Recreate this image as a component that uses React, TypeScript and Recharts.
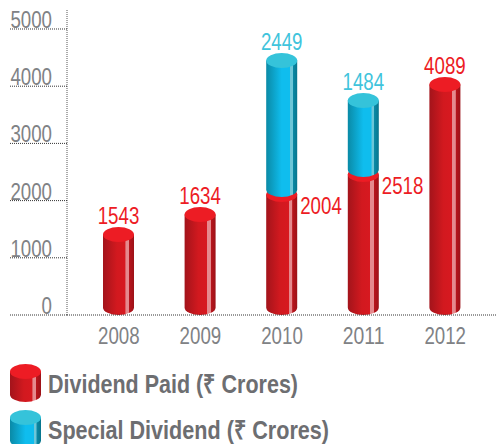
import React from 'react';
import { BarChart, Bar, XAxis, YAxis, Legend, LabelList } from 'recharts';

const years = ['2008', '2009', '2010', '2011', '2012'];
// bar heights as drawn in the picture, read against the axis (the artwork is not to scale)
const paidHeights = [1538, 1888, 2238, 2587, 4161];
const specialHeights = [null, null, 2342, 1294, null];
// printed labels
const paidLabels = [1543, 1634, 2004, 2518, 4089];
const specialLabels = [null, null, 2449, 1484, null];
const yTicks = [0, 1000, 2000, 3000, 4000, 5000];

const FONT = '"Liberation Sans", sans-serif';
const GREY = '#808285';
const RED = '#ed1c24';
const BLUE = '#3fc4dc';
const RY = 7.5;

const data = years.map((year, i) => ({
    year,
    paid: paidHeights[i],
    special: specialHeights[i],
    paidLabel: paidLabels[i],
    specialLabel: specialLabels[i],
}));

const Gradients = () => (
    <defs>
        <linearGradient id="redBody" x1="0" y1="0" x2="1" y2="0">
            <stop offset="0" stopColor="#a3141b" />
            <stop offset="0.45" stopColor="#d2191f" />
            <stop offset="0.72" stopColor="#d71920" />
            <stop offset="0.73" stopColor="#e58a8e" />
            <stop offset="0.84" stopColor="#e58a8e" />
            <stop offset="0.85" stopColor="#b8151c" />
            <stop offset="1" stopColor="#9c1218" />
        </linearGradient>
        <linearGradient id="blueBody" x1="0" y1="0" x2="1" y2="0">
            <stop offset="0" stopColor="#0a8aa6" />
            <stop offset="0.5" stopColor="#0fbdee" />
            <stop offset="0.76" stopColor="#0fbdee" />
            <stop offset="0.77" stopColor="#6cc6d8" />
            <stop offset="0.85" stopColor="#6cc6d8" />
            <stop offset="0.86" stopColor="#0a8aa6" />
            <stop offset="1" stopColor="#08758d" />
        </linearGradient>
    </defs>
);

// no condensed face is installed, so digits get squeezed to the width they have in the picture
const NarrowText = ({ value, ...rest }: any) => (
    <text
        fontFamily={FONT}
        fontSize={23}
        textLength={String(value).length * 10.4}
        lengthAdjust="spacingAndGlyphs"
        {...rest}
    >
        {value}
    </text>
);

const Cylinder = ({ x, y, width, height, body, top }: any) => {
    const rx = width / 2;
    return (
        <g>
            <path
                d={`M${x},${y + RY} L${x},${y + height - RY} A${rx},${RY} 0 0 0 ${x + width},${y + height - RY} L${x + width},${y + RY} Z`}
                fill={`url(#${body})`}
            />
            <ellipse cx={x + rx} cy={y + RY} rx={rx} ry={RY} fill={top} />
        </g>
    );
};

const PaidShape = (props: any) => (
    <Cylinder x={props.x} y={props.y} width={props.width} height={props.height} body="redBody" top={RED} />
);

const SpecialShape = (props: any) => {
    if (!props.height) return null;
    // runs a little past the stack seam so the red top shows only as a crescent
    return <Cylinder x={props.x} y={props.y} width={props.width} height={props.height + 10} body="blueBody" top="#35c3da" />;
};

const PaidLabel = ({ x, y, width, value, index }: any) => {
    const beside = specialLabels[index] != null;
    return (
        <NarrowText
            value={value}
            x={beside ? x + width + 3 : x + width / 2}
            y={beside ? y + 27 : y - 3}
            textAnchor={beside ? 'start' : 'middle'}
            fill={RED}
        />
    );
};

const SpecialLabel = ({ x, y, width, value }: any) => {
    if (value == null) return null;
    return <NarrowText value={value} x={x + width / 2} y={y - 3} textAnchor="middle" fill={BLUE} />;
};

const YTick = ({ y, payload }: any) => (
    <g>
        <line x1={10} x2={67} y1={y} y2={y} stroke="#333" strokeDasharray="1 1" />
        <NarrowText value={payload.value} x={52} y={y - 1} textAnchor="end" fill={GREY} />
    </g>
);

const XTick = ({ x, y, payload }: any) => (
    <NarrowText value={payload.value} x={x} y={y + 21} textAnchor="middle" fill={GREY} />
);

const legendItems = [
    { label: 'Dividend Paid (₹ Crores)', body: 'redBody', top: RED, textWidth: 250 },
    { label: 'Special Dividend (₹ Crores)', body: 'blueBody', top: '#35c3da', textWidth: 281 },
];

const LegendContent = () => (
    <svg width={400} height={92} style={{ display: 'block' }}>
        {legendItems.map((item, i) => (
            <g key={item.label} transform={`translate(0,${i * 46})`}>
                <Cylinder x={0} y={3} width={31} height={38} body={item.body} top={item.top} />
                <text
                    x={38}
                    y={32}
                    fontFamily={FONT}
                    fontWeight={700}
                    fontSize={26}
                    fill="#6d6e71"
                    textLength={item.textWidth}
                    lengthAdjust="spacingAndGlyphs"
                >
                    {item.label}
                </text>
            </g>
        ))}
    </svg>
);

export default function App() {
    return (
        <div style={{ position: 'absolute', left: 0, top: 0, width: 497, height: 444, overflow: 'hidden' }}>
            <BarChart
                width={497}
                height={444}
                data={data}
                barSize={31}
                margin={{ top: 10, right: 0, bottom: 99, left: 0 }}
            >
                <Gradients />
                <XAxis
                    dataKey="year"
                    padding={{ left: 11, right: 11 }}
                    axisLine={{ stroke: '#333', strokeDasharray: '1 1' }}
                    tickLine={false}
                    tick={<XTick />}
                    height={30}
                />
                <YAxis
                    domain={[0, 5332]}
                    ticks={yTicks}
                    width={67}
                    allowDataOverflow
                    interval={0}
                    axisLine={{ stroke: '#555', strokeDasharray: '1 1' }}
                    tickLine={false}
                    tick={<YTick />}
                />
                <Bar dataKey="paid" stackId="a" shape={<PaidShape />} isAnimationActive={false}>
                    <LabelList dataKey="paidLabel" content={<PaidLabel />} />
                </Bar>
                <Bar dataKey="special" stackId="a" shape={<SpecialShape />} isAnimationActive={false}>
                    <LabelList dataKey="specialLabel" content={<SpecialLabel />} />
                </Bar>
                <Legend
                    layout="horizontal"
                    verticalAlign="middle"
                    content={<LegendContent />}
                    wrapperStyle={{ left: 10, top: 361, width: 400 }}
                />
            </BarChart>
        </div>
    );
}
